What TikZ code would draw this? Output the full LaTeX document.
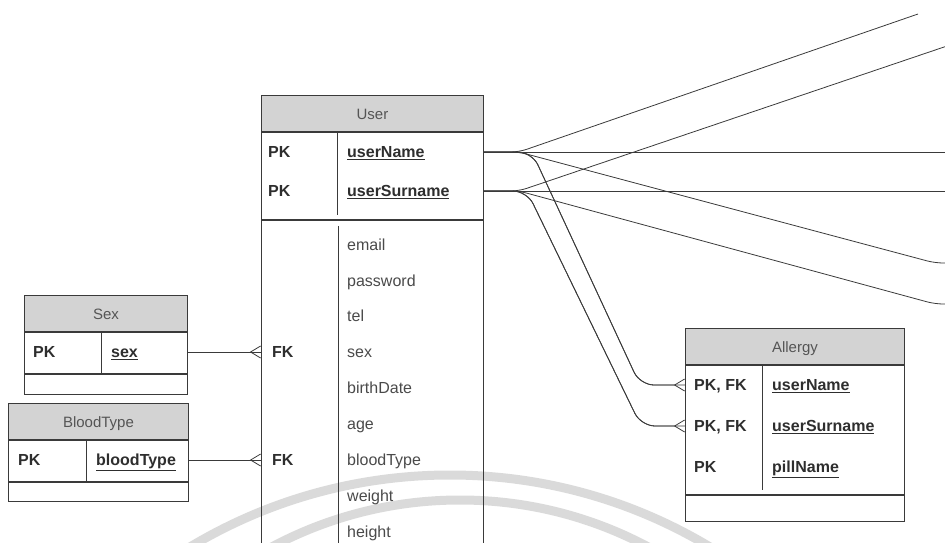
\documentclass[tikz,border=0pt]{standalone}
\usepackage{fontspec}
\setmainfont{Liberation Sans}
\usetikzlibrary{positioning, arrows.meta}
\definecolor{lnc}{HTML}{3A3A3A}
\definecolor{hdrc}{HTML}{D3D3D3}
\definecolor{hdrt}{HTML}{555555}
\definecolor{fldt}{HTML}{4A4A4A}
\definecolor{keyt}{HTML}{2E2E2E}
\definecolor{wmc}{HTML}{DADADA}

\begin{document}
\begin{tikzpicture}[
        x=1pt, y=-1pt,
        every node/.style={inner sep=0pt, anchor=west, text height=11.5pt, text depth=0pt},
        hdr/.style={draw=lnc, line width=0.9pt, fill=hdrc, text=hdrt,
            font=\fontsize{15}{18}\selectfont, minimum height=36pt, anchor=north west},
        box/.style={draw=lnc, line width=0.9pt},
        fld/.style={text=fldt, font=\fontsize{16}{19}\selectfont},
        key/.style={text=keyt, font=\fontsize{16}{19}\selectfont\bfseries},
        ln/.style={draw=lnc, line width=0.9pt},
        rel/.style={draw=lnc, line width=0.8pt, rounded corners=8pt},
        crow/.style={rel, -{Straight Barb[reversed, length=10pt, width=12pt]},
            postaction={draw, -}},
        wm/.style={draw=wmc, line width=9pt}
    ]
    \useasboundingbox (0,0) rectangle (945,543);
    \clip (0,0) rectangle (945,543);
    \draw[wm] (450,980) circle[radius=505];
    \draw[wm] (460,900) circle[radius=400];

    \node[hdr, minimum width=222pt] (user) at (261,95) {User};
    \node[box, minimum width=222pt, minimum height=87pt, below=0pt of user] (userpk) {};
    \node[box, minimum width=222pt, minimum height=360pt, below=0pt of userpk] (userat) {};
    \draw[ln] ([xshift=76pt]userpk.north west) -- ([xshift=76pt, yshift=5pt]userpk.south west);
    \draw[ln] ([xshift=77pt, yshift=-6pt]userat.north west) -- ([xshift=77pt]userat.south west);
    \node[key] (upk1) at (268,152) {PK};
    \node[key] (un) at (347,152) {\underline{userName}};
    \node[key] (upk2) at (268,191) {PK};
    \node[key] (us) at (347,191) {\underline{userSurname}};
    \foreach \f/\yy in {email/245, password/281, tel/316, sex/352, birthDate/388,
            age/424, bloodType/460, weight/496, height/532}
        \node[fld] (a-\f) at (347,\yy) {\f};
    \node[key] (ufk1) at (272,352) {FK};
    \node[key] (ufk2) at (272,460) {FK};

    \node[hdr, minimum width=163pt] (sex) at (24,295) {Sex};
    \node[box, minimum width=163pt, minimum height=41pt, below=0pt of sex] (sexpk) {};
    \node[box, minimum width=163pt, minimum height=20pt, below=0pt of sexpk] (sexrest) {};
    \draw[ln] ([xshift=77pt]sexpk.north west) -- ([xshift=77pt]sexpk.south west);
    \node[key] (sexk) at (33,352) {PK};
    \node[key] (sexf) at (111,352) {\underline{sex}};

    \node[hdr, minimum width=180pt] (bt) at (8,403) {BloodType};
    \node[box, minimum width=180pt, minimum height=41pt, below=0pt of bt] (btpk) {};
    \node[box, minimum width=180pt, minimum height=19pt, below=0pt of btpk] (btrest) {};
    \draw[ln] ([xshift=78pt]btpk.north west) -- ([xshift=78pt]btpk.south west);
    \node[key] (btk) at (18,460) {PK};
    \node[key] (btf) at (96,460) {\underline{bloodType}};

    \node[hdr, minimum width=219pt] (alg) at (685,328) {Allergy};
    \node[box, minimum width=219pt, minimum height=129pt, below=0pt of alg] (algpk) {};
    \node[box, minimum width=219pt, minimum height=26pt, below=0pt of algpk] (algrest) {};
    \draw[ln] ([xshift=77pt]algpk.north west) -- ([xshift=77pt, yshift=5pt]algpk.south west);
    \node[key] (ak1) at (694,385) {PK, FK};
    \node[key] (aun) at (772,385) {\underline{userName}};
    \node[key] (ak2) at (694,426) {PK, FK};
    \node[key] (aus) at (772,426) {\underline{userSurname}};
    \node[key] (ak3) at (694,467) {PK};
    \node[key] (apn) at (772,467) {\underline{pillName}};

    \coordinate (e1) at (918,14);
    \coordinate (e2) at (950,152);
    \coordinate (e3) at (950,263);
    \coordinate (e4) at (950,45);
    \coordinate (e5) at (950,191);
    \coordinate (e6) at (950,304);

    \draw[crow] (sexpk.east |- sexf) -- (userat.west |- a-sex);
    \draw[crow] (btpk.east |- btf) -- (userat.west |- a-bloodType);
    \draw[crow, rounded corners=14pt] (userpk.east |- un) -- ++(48,0)
        -- ([xshift=-45pt]algpk.west |- aun) -- (algpk.west |- aun);
    \draw[crow, rounded corners=14pt] (userpk.east |- us) -- ++(43,0)
        -- ([xshift=-44pt]algpk.west |- aus) -- (algpk.west |- aus);
    \draw[rel] (userpk.east |- un) -- ++(35,0) -- (e1);
    \draw[rel] (userpk.east |- un) -- (e2);
    \draw[rel] (userpk.east |- un) -- ++(35,0) -- ([xshift=-15pt]e3) -- (e3);
    \draw[rel] (userpk.east |- us) -- ++(35,0) -- (e4);
    \draw[rel] (userpk.east |- us) -- (e5);
    \draw[rel] (userpk.east |- us) -- ++(35,0) -- ([xshift=-15pt]e6) -- (e6);
\end{tikzpicture}
\end{document}
